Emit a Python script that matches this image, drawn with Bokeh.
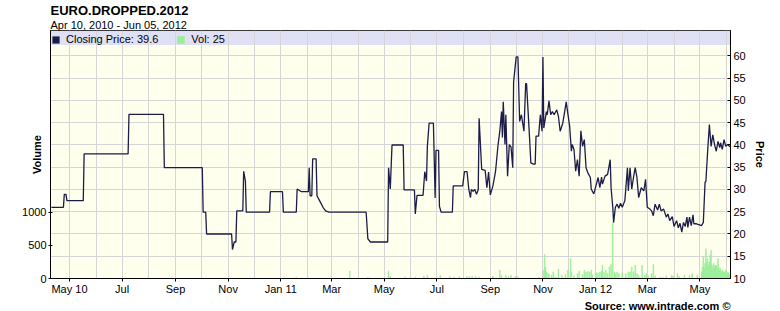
import pandas as pd
from bokeh.plotting import figure
from bokeh.models import (Range1d, LinearAxis, FixedTicker, BoxAnnotation, Title,
                          Legend, LegendItem, MonthsTicker)
from bokeh.embed import file_html
from bokeh.resources import INLINE

# ---------------- data ----------------
title_text = "EURO.DROPPED.2012"
subtitle_text = "Apr 10, 2010 - Jun 05, 2012"
source_text = "Source: www.intrade.com ©"

price_dates = [
    "2010-04-10", "2010-04-24", "2010-04-25", "2010-04-27", "2010-04-28", "2010-05-17", "2010-05-18",
    "2010-07-08", "2010-07-09", "2010-08-18", "2010-08-19", "2010-10-02", "2010-10-03", "2010-10-06",
    "2010-10-07", "2010-11-05", "2010-11-06", "2010-11-08", "2010-11-10", "2010-11-11", "2010-11-18",
    "2010-11-19", "2010-11-21", "2010-11-22", "2010-12-19", "2010-12-20", "2011-01-03", "2011-01-04",
    "2011-01-19", "2011-01-20", "2011-01-25", "2011-02-02", "2011-02-03", "2011-02-04", "2011-02-06",
    "2011-02-07", "2011-02-11", "2011-02-12", "2011-02-15", "2011-02-19", "2011-02-22", "2011-02-26",
    "2011-04-10", "2011-04-12", "2011-04-15", "2011-05-05", "2011-05-06", "2011-05-08", "2011-05-10",
    "2011-05-23", "2011-05-24", "2011-06-05", "2011-06-06", "2011-06-08", "2011-06-15", "2011-06-17",
    "2011-06-19", "2011-06-20", "2011-06-22", "2011-06-27", "2011-06-29", "2011-06-30", "2011-07-03",
    "2011-07-04", "2011-07-06", "2011-07-19", "2011-07-20", "2011-07-31", "2011-08-02", "2011-08-05",
    "2011-08-07", "2011-08-09", "2011-08-10", "2011-08-12", "2011-08-14", "2011-08-16", "2011-08-18",
    "2011-08-19", "2011-08-22", "2011-08-26", "2011-08-28", "2011-08-30", "2011-09-01", "2011-09-04",
    "2011-09-07", "2011-09-10", "2011-09-12", "2011-09-14", "2011-09-15", "2011-09-16", "2011-09-18",
    "2011-09-19", "2011-09-21", "2011-09-23", "2011-09-25", "2011-09-27", "2011-09-28", "2011-10-01",
    "2011-10-03", "2011-10-05", "2011-10-07", "2011-10-10", "2011-10-12", "2011-10-13", "2011-10-16",
    "2011-10-18", "2011-10-21", "2011-10-23", "2011-10-24", "2011-10-27", "2011-10-29", "2011-10-31",
    "2011-11-01", "2011-11-02", "2011-11-05", "2011-11-06", "2011-11-08", "2011-11-10", "2011-11-12",
    "2011-11-14", "2011-11-17", "2011-11-19", "2011-11-21", "2011-11-24", "2011-11-26", "2011-11-28",
    "2011-12-02", "2011-12-04", "2011-12-05", "2011-12-07", "2011-12-09", "2011-12-11", "2011-12-13",
    "2011-12-15", "2011-12-17", "2011-12-19", "2011-12-21", "2011-12-23", "2011-12-26", "2011-12-27",
    "2011-12-30", "2012-01-02", "2012-01-04", "2012-01-06", "2012-01-08", "2012-01-09", "2012-01-12",
    "2012-01-15", "2012-01-18", "2012-01-19", "2012-01-21", "2012-01-22", "2012-01-24", "2012-01-26",
    "2012-01-28", "2012-01-30", "2012-02-01", "2012-02-04", "2012-02-07", "2012-02-08", "2012-02-10",
    "2012-02-12", "2012-02-14", "2012-02-16", "2012-02-18", "2012-02-20", "2012-02-23", "2012-02-26",
    "2012-02-28", "2012-03-01", "2012-03-04", "2012-03-06", "2012-03-08", "2012-03-10", "2012-03-13",
    "2012-03-15", "2012-03-17", "2012-03-20", "2012-03-23", "2012-03-25", "2012-03-27", "2012-03-30",
    "2012-04-01", "2012-04-04", "2012-04-06", "2012-04-08", "2012-04-10", "2012-04-12", "2012-04-14",
    "2012-04-16", "2012-04-17", "2012-04-19", "2012-04-21", "2012-04-23", "2012-04-24", "2012-04-27",
    "2012-05-03", "2012-05-05", "2012-05-07", "2012-05-08", "2012-05-10", "2012-05-12", "2012-05-14",
    "2012-05-16", "2012-05-18", "2012-05-20", "2012-05-22", "2012-05-24", "2012-05-25", "2012-05-27",
    "2012-05-29", "2012-05-31", "2012-06-02", "2012-06-05",
]
price_values = [
    26.0, 26.0, 28.9, 28.9, 27.5, 27.5, 38.0,
    38.0, 46.9, 46.9, 34.9, 34.9, 24.9, 24.9,
    20.0, 20.0, 16.5, 18.2, 18.2, 25.2, 25.2,
    34.1, 31.9, 24.9, 24.9, 29.5, 29.5, 24.9,
    24.9, 30.1, 29.5, 29.5, 34.9, 28.6, 28.6,
    36.9, 36.9, 28.6, 27.5, 26.0, 25.2, 24.9,
    24.9, 18.9, 18.2, 18.2, 34.9, 30.1, 40.0,
    40.0, 29.9, 29.9, 24.5, 28.7, 28.7, 34.0,
    31.9, 39.7, 44.9, 44.9, 28.1, 38.8, 38.8,
    26.2, 24.9, 24.9, 30.8, 30.8, 34.0, 34.0,
    30.1, 28.2, 30.0, 29.6, 30.0, 28.9, 30.0,
    46.0, 34.5, 34.3, 30.4, 33.9, 28.8, 30.8,
    34.0, 40.1, 43.1, 47.5, 41.7, 49.7, 40.1,
    46.8, 33.0, 40.1, 39.6, 34.9, 54.2, 59.8,
    59.8, 45.3, 46.8, 43.1, 53.8, 53.8, 43.4,
    36.0, 35.7, 35.7, 42.0, 42.0, 46.8, 43.1,
    59.8, 43.8, 47.5, 46.8, 49.9, 46.8, 47.5,
    46.8, 47.9, 46.4, 43.1, 44.9, 47.2, 49.7,
    44.2, 38.6, 40.1, 39.0, 34.1, 36.7, 33.0,
    43.2, 39.7, 41.2, 34.9, 33.8, 32.7, 30.1,
    29.0, 31.2, 32.7, 30.4, 32.8, 31.2, 33.0,
    33.4, 36.7, 30.4, 26.0, 22.6, 26.0, 26.7,
    25.8, 26.9, 26.0, 27.5, 34.9, 29.7, 34.9,
    30.1, 32.7, 34.9, 32.7, 28.2, 30.4, 29.7,
    32.3, 26.0, 25.6, 25.2, 24.1, 26.7, 25.4,
    26.7, 25.2, 25.6, 23.8, 24.5, 23.0, 23.9,
    21.7, 23.0, 21.4, 22.4, 20.4, 22.6, 21.7,
    23.8, 21.5, 23.8, 21.9, 24.3, 22.3, 22.3,
    21.9, 22.6, 31.6, 31.9, 38.6, 44.6, 39.7,
    42.3, 40.1, 38.6, 40.8, 39.4, 40.5, 39.0,
    41.2, 39.7, 40.1, 39.6,
]

vol_dates = [
    "2011-01-19", "2011-03-22", "2011-04-12", "2011-05-06", "2011-05-08", "2011-05-25", "2011-06-06",
    "2011-06-16", "2011-06-20", "2011-07-05", "2011-07-16", "2011-07-21", "2011-07-27", "2011-08-05",
    "2011-08-08", "2011-08-11", "2011-08-15", "2011-08-19", "2011-09-04", "2011-09-12", "2011-09-14",
    "2011-09-19", "2011-09-22", "2011-09-25", "2011-09-30", "2011-10-03", "2011-10-27", "2011-11-02",
    "2011-11-03", "2011-11-04", "2011-11-05", "2011-11-07", "2011-11-08", "2011-11-11", "2011-11-13",
    "2011-11-16", "2011-11-19", "2011-11-23", "2011-11-27", "2011-11-30", "2011-12-03", "2011-12-04",
    "2011-12-07", "2011-12-11", "2011-12-13", "2011-12-17", "2011-12-19", "2011-12-21", "2011-12-23",
    "2011-12-25", "2011-12-27", "2011-12-28", "2012-01-02", "2012-01-04", "2012-01-06", "2012-01-08",
    "2012-01-09", "2012-01-11", "2012-01-13", "2012-01-15", "2012-01-17", "2012-01-19", "2012-01-21",
    "2012-01-23", "2012-01-24", "2012-01-26", "2012-01-28", "2012-02-01", "2012-02-05", "2012-02-08",
    "2012-02-10", "2012-02-12", "2012-02-14", "2012-02-16", "2012-02-18", "2012-02-20", "2012-02-24",
    "2012-02-27", "2012-02-29", "2012-03-02", "2012-03-06", "2012-03-08", "2012-03-10", "2012-03-16",
    "2012-03-19", "2012-03-23", "2012-03-29", "2012-03-31", "2012-04-05", "2012-04-07", "2012-04-13",
    "2012-04-19", "2012-04-22", "2012-04-28", "2012-05-03", "2012-05-04", "2012-05-05", "2012-05-06",
    "2012-05-07", "2012-05-08", "2012-05-09", "2012-05-10", "2012-05-11", "2012-05-12", "2012-05-13",
    "2012-05-14", "2012-05-15", "2012-05-16", "2012-05-17", "2012-05-18", "2012-05-19", "2012-05-20",
    "2012-05-21", "2012-05-22", "2012-05-23", "2012-05-24", "2012-05-25", "2012-05-26", "2012-05-27",
    "2012-05-28", "2012-05-29", "2012-05-30", "2012-05-31", "2012-06-01", "2012-06-02", "2012-06-03",
    "2012-06-04", "2012-06-05",
]
vol_values = [
    20, 110, 15, 110, 30, 20, 20,
    35, 50, 45, 30, 20, 30, 30,
    30, 30, 30, 20, 35, 125, 45,
    45, 30, 45, 30, 30, 20, 125,
    360, 175, 100, 75, 60, 50, 100,
    20, 140, 50, 60, 125, 300, 100,
    40, 75, 110, 60, 125, 100, 110,
    100, 125, 60, 90, 75, 100, 110,
    200, 90, 125, 75, 175, 210, 855,
    100, 75, 100, 75, 90, 75, 100,
    100, 175, 100, 200, 75, 50, 200,
    50, 75, 40, 75, 210, 40, 20,
    20, 40, 50, 40, 75, 35, 50,
    50, 75, 50, 100, 175, 325, 150,
    225, 450, 250, 300, 200, 250, 350,
    425, 200, 150, 225, 175, 200, 200,
    150, 300, 175, 125, 150, 100, 125,
    110, 100, 90, 125, 100, 80, 100,
    60, 25,
]

x_tick_dates = ["2010-05-01", "2010-07-01", "2010-09-01", "2010-11-01", "2011-01-01", "2011-03-01",
                "2011-05-01", "2011-07-01", "2011-09-01", "2011-11-01", "2012-01-01", "2012-03-01",
                "2012-05-01"]
x_tick_labels = ["May 10", "Jul", "Sep", "Nov", "Jan 11", "Mar", "May", "Jul", "Sep", "Nov",
                 "Jan 12", "Mar", "May"]
price_ticks = [10, 15, 20, 25, 30, 35, 40, 45, 50, 55, 60]
price_grid = [15, 20, 25, 30, 35, 40, 45, 50, 55, 60]
vol_ticks = [0, 500, 1000]

# ---------------- style ----------------
FONT = "Liberation Sans"
LINE = "#1c1c48"
VOLC = "#99ee99"
BG = "#ffffee"
BAND = "#e0e0f4"
GRID = "#d6d6d6"


def ms(s):
    return int(pd.Timestamp(s).value // 10**6)


p = figure(width=780, height=311, x_axis_type="datetime", y_axis_location="right",
           output_backend="svg", toolbar_location=None, title=None,
           x_range=Range1d(ms("2010-04-09"), ms("2012-06-05 12:00")),
           y_range=Range1d(10, 65.73),
           min_border_left=50, min_border_right=50, min_border_top=30, min_border_bottom=31,
           background_fill_color=BG, border_fill_color="white")
p.extra_y_ranges = {"vol": Range1d(0, 3750)}
p.outline_line_color = "black"
p.outline_line_width = 1

# titles (first added sits next to the frame)
p.add_layout(Title(text=subtitle_text, text_font=FONT, text_font_size="11px",
                   text_font_style="normal", text_color="black", align="left",
                   standoff=-1, offset=0), "above")
p.add_layout(Title(text=title_text, text_font=FONT, text_font_size="13px",
                   text_font_style="bold", text_color="black", align="left",
                   standoff=-1, offset=0), "above")

# price axis (right)
pax = p.right[0]
pax.ticker = FixedTicker(ticks=price_ticks)
pax.major_tick_in = 3
pax.major_tick_out = 0
pax.minor_tick_in = 0
pax.minor_tick_out = 0
pax.axis_line_color = "black"
pax.major_label_text_font = FONT
pax.major_label_text_font_size = "11px"
pax.major_label_text_color = "black"
pax.major_label_standoff = 3
pax.axis_label = "Price"
pax.axis_label_text_font = FONT
pax.axis_label_text_font_size = "11px"
pax.axis_label_text_font_style = "bold"
pax.axis_label_text_color = "black"
pax.axis_label_standoff = 5

# volume axis (left)
vax = LinearAxis(y_range_name="vol", ticker=FixedTicker(ticks=vol_ticks))
vax.major_tick_in = 2
vax.major_tick_out = 2
vax.minor_tick_in = 0
vax.minor_tick_out = 0
vax.axis_line_color = "black"
vax.major_label_text_font = FONT
vax.major_label_text_font_size = "11px"
vax.major_label_text_color = "black"
vax.major_label_standoff = 2
vax.axis_label = "Volume"
vax.axis_label_text_font = FONT
vax.axis_label_text_font_size = "11px"
vax.axis_label_text_font_style = "bold"
vax.axis_label_text_color = "black"
vax.axis_label_standoff = -24
p.add_layout(vax, "left")

# x axis
xax = p.below[0]
xax.ticker = FixedTicker(ticks=[ms(d) for d in x_tick_dates])
xax.major_label_overrides = {ms(d): lab for d, lab in zip(x_tick_dates, x_tick_labels)}
xax.major_tick_in = 0
xax.major_tick_out = 3
xax.minor_tick_in = 0
xax.minor_tick_out = 0
xax.axis_line_color = "black"
xax.major_label_text_font = FONT
xax.major_label_text_font_size = "11px"
xax.major_label_text_color = "black"
xax.major_label_standoff = 1

# source line under the axis
p.add_layout(Title(text=source_text, text_font=FONT, text_font_size="11px",
                   text_font_style="bold", text_color="black", align="right",
                   standoff=0, offset=0), "below")

# grids
p.xgrid.ticker = MonthsTicker(months=list(range(12)))
p.ygrid.ticker = FixedTicker(ticks=price_grid)
p.xgrid.grid_line_color = GRID
p.ygrid.grid_line_color = GRID

# legend band
p.add_layout(BoxAnnotation(bottom=62.45, fill_color=BAND, fill_alpha=1, line_alpha=0, level="image"))

# data
vol_r = p.vbar(x=pd.to_datetime(vol_dates), top=vol_values, width=86400000, y_range_name="vol",
               fill_color=VOLC, line_color=VOLC, line_width=0.5)
p.line(x=pd.to_datetime(price_dates), y=price_values, line_color=LINE, line_width=1.3)
# zero-size key glyph (sits on the last closing price) used only for the legend square
price_key = p.vbar(x=pd.to_datetime(price_dates[-1:]), top=price_values[-1:],
                   bottom=price_values[-1:], width=0, fill_color=LINE, line_color=None)

legend = Legend(items=[LegendItem(label=f"Closing Price: {price_values[-1]}", renderers=[price_key]),
                       LegendItem(label=f"Vol: {vol_values[-1]}", renderers=[vol_r])],
                orientation="horizontal", location=(1, 233), padding=0, margin=0, spacing=18,
                label_standoff=6, glyph_width=9, glyph_height=9, label_height=9,
                label_text_font=FONT, label_text_font_size="11px", label_text_color="black",
                background_fill_alpha=0, border_line_alpha=0)
p.add_layout(legend)

open("out.html", "w").write(file_html(p, INLINE))
